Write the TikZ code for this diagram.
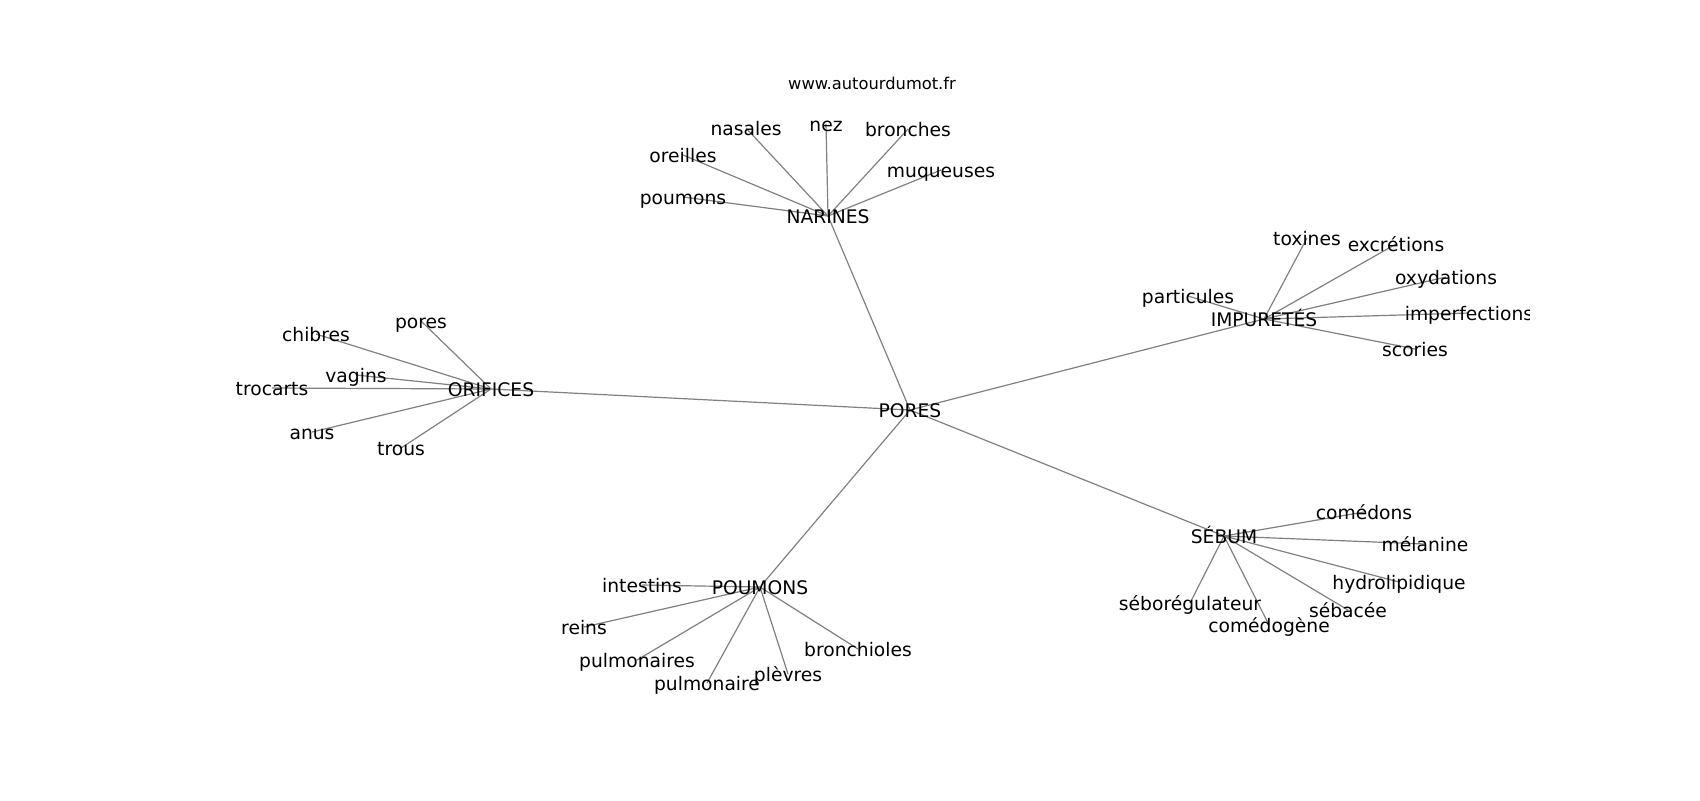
\documentclass[tikz,border=0pt]{standalone}
\usepackage{fontspec}
\setmainfont{DejaVu Sans}
\begin{document}
\begin{tikzpicture}[x=0.5pt,y=-0.5pt,
  lbl/.style={inner sep=0pt,text height=0.76em,text depth=0.24em,yshift=-1pt,font=\fontsize{9.35pt}{11pt}\selectfont},
  ttl/.style={inner sep=0pt,font=\fontsize{8.15pt}{10pt}\selectfont},
  edge/.style={draw=gray,line width=0.6pt}]
\useasboundingbox (0,0) rectangle (1700,800);
\begin{scope}
\clip (0,0) rectangle (1529,800);
% hubs
\coordinate (PORES) at (910,410);
\coordinate (NARINES) at (828,216);
\coordinate (IMPURETES) at (1264,319);
\coordinate (ORIFICES) at (491,389);
\coordinate (POUMONS) at (760,587);
\coordinate (SEBUM) at (1224,536);
% leaves
\coordinate (nasales) at (746,128);
\coordinate (nez) at (826,124);
\coordinate (bronches) at (908,129);
\coordinate (oreilles) at (683,155);
\coordinate (muqueuses) at (941,170);
\coordinate (poumons) at (683,197);
\coordinate (toxines) at (1307,238);
\coordinate (excretions) at (1396,244);
\coordinate (oxydations) at (1446,277);
\coordinate (particules) at (1188,296);
\coordinate (imperfections) at (1469,313);
\coordinate (scories) at (1415,349);
\coordinate (pores) at (421,321);
\coordinate (chibres) at (316,334);
\coordinate (vagins) at (356,375);
\coordinate (trocarts) at (272,388);
\coordinate (anus) at (312,432);
\coordinate (trous) at (401,448);
\coordinate (intestins) at (642,585);
\coordinate (reins) at (584,627);
\coordinate (pulmonaires) at (637,660);
\coordinate (pulmonaire) at (707,683);
\coordinate (plevres) at (788,674);
\coordinate (bronchioles) at (858,649);
\coordinate (comedons) at (1364,512);
\coordinate (melanine) at (1425,544);
\coordinate (hydrolipidique) at (1399,582);
\coordinate (seboregulateur) at (1190,603);
\coordinate (sebacee) at (1348,610);
\coordinate (comedogene) at (1269,625);
% edges
\foreach \a/\b in {PORES/NARINES,PORES/IMPURETES,PORES/ORIFICES,PORES/POUMONS,PORES/SEBUM,
  NARINES/nasales,NARINES/nez,NARINES/bronches,NARINES/oreilles,NARINES/muqueuses,NARINES/poumons,
  IMPURETES/toxines,IMPURETES/excretions,IMPURETES/oxydations,IMPURETES/particules,IMPURETES/imperfections,IMPURETES/scories,
  ORIFICES/pores,ORIFICES/chibres,ORIFICES/vagins,ORIFICES/trocarts,ORIFICES/anus,ORIFICES/trous,
  POUMONS/intestins,POUMONS/reins,POUMONS/pulmonaires,POUMONS/pulmonaire,POUMONS/plevres,POUMONS/bronchioles,
  SEBUM/comedons,SEBUM/melanine,SEBUM/hydrolipidique,SEBUM/seboregulateur,SEBUM/sebacee,SEBUM/comedogene}
  \draw[edge] (\a) -- (\b);
% labels
\node[lbl] (tPORES) at (PORES) {PORES};
\node[lbl] (tNARINES) at (NARINES) {NARINES};
\node[lbl] (tIMPURETES) at (IMPURETES) {IMPURETÉS};
\node[lbl] (tORIFICES) at (ORIFICES) {ORIFICES};
\node[lbl] (tPOUMONS) at (POUMONS) {POUMONS};
\node[lbl] (tSEBUM) at (SEBUM) {SÉBUM};
\node[lbl] (tnasales) at (nasales) {nasales};
\node[lbl] (tnez) at (nez) {nez};
\node[lbl] (tbronches) at (bronches) {bronches};
\node[lbl] (toreilles) at (oreilles) {oreilles};
\node[lbl] (tmuqueuses) at (muqueuses) {muqueuses};
\node[lbl] (tpoumons) at (poumons) {poumons};
\node[lbl] (ttoxines) at (toxines) {toxines};
\node[lbl] (texcretions) at (excretions) {excrétions};
\node[lbl] (toxydations) at (oxydations) {oxydations};
\node[lbl] (tparticules) at (particules) {particules};
\node[lbl] (timperfections) at (imperfections) {imperfections};
\node[lbl] (tscories) at (scories) {scories};
\node[lbl] (tpores) at (pores) {pores};
\node[lbl] (tchibres) at (chibres) {chibres};
\node[lbl] (tvagins) at (vagins) {vagins};
\node[lbl] (ttrocarts) at (trocarts) {trocarts};
\node[lbl] (tanus) at (anus) {anus};
\node[lbl] (ttrous) at (trous) {trous};
\node[lbl] (tintestins) at (intestins) {intestins};
\node[lbl] (treins) at (reins) {reins};
\node[lbl] (tpulmonaires) at (pulmonaires) {pulmonaires};
\node[lbl] (tpulmonaire) at (pulmonaire) {pulmonaire};
\node[lbl] (tplevres) at (plevres) {plèvres};
\node[lbl] (tbronchioles) at (bronchioles) {bronchioles};
\node[lbl] (tcomedons) at (comedons) {comédons};
\node[lbl] (tmelanine) at (melanine) {mélanine};
\node[lbl] (thydrolipidique) at (hydrolipidique) {hydrolipidique};
\node[lbl] (tseboregulateur) at (seboregulateur) {séborégulateur};
\node[lbl] (tsebacee) at (sebacee) {sébacée};
\node[lbl] (tcomedogene) at (comedogene) {comédogène};
\node[ttl] (title) at (872,83) {www.autourdumot.fr};
\end{scope}
\end{tikzpicture}
\end{document}
